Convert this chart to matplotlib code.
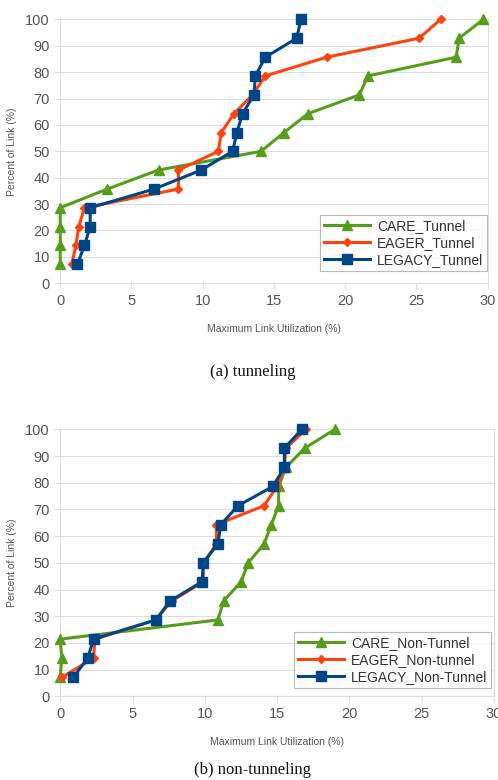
import matplotlib
matplotlib.use("Agg")
import matplotlib.pyplot as plt

# y values: percent of links (k/14)
pct = [7.1, 14.3, 21.4, 28.6, 35.7, 42.9, 50.0, 57.1, 64.3, 71.4, 78.6, 85.7, 92.9, 100.0]

# (a) tunneling
care_tun = [0, 0, 0, 0, 3.3, 6.9, 14.1, 15.7, 17.4, 21.0, 21.6, 27.8, 28.0, 29.7]
eager_tun = [0.8, 1.1, 1.3, 1.7, 8.3, 8.3, 11.1, 11.3, 12.2, 13.5, 14.4, 18.7, 25.2, 26.7]
legacy_tun = [1.2, 1.7, 2.1, 2.1, 6.6, 9.9, 12.1, 12.4, 12.8, 13.6, 13.7, 14.4, 16.6, 16.9]

# (b) non-tunneling
care_non = [0, 0.1, 0, 10.9, 11.3, 12.5, 13.0, 14.1, 14.6, 15.1, 15.1, 15.6, 16.9, 19.0]
eager_non = [0.1, 2.3, 2.4, 6.6, 7.7, 9.9, 9.9, 10.8, 10.8, 14.1, 15.0, 15.5, 15.6, 17.0]
legacy_non = [0.9, 1.9, 2.3, 6.6, 7.6, 9.8, 9.9, 10.9, 11.1, 12.3, 14.7, 15.5, 15.5, 16.7]

labels_tun = ["CARE_Tunnel", "EAGER_Tunnel", "LEGACY_Tunnel"]
labels_non = ["CARE_Non-Tunnel", "EAGER_Non-tunnel", "LEGACY_Non-Tunnel"]

xticks = [0, 5, 10, 15, 20, 25, 30]
yticks = [0, 10, 20, 30, 40, 50, 60, 70, 80, 90, 100]

GREEN = "#579d1c"
ORANGE = "#ff420e"
BLUE = "#004586"

plt.rcParams['font.family'] = ['Liberation Sans', 'DejaVu Sans']

fig = plt.figure(figsize=(4.98, 7.8), dpi=100)

def draw(ax, care, eager, legacy, labels, legend_bbox):
    ax.plot(care, pct, color=GREEN, lw=2.2, marker='^', ms=7, label=labels[0], zorder=3)
    ax.plot(eager, pct, color=ORANGE, lw=2.2, marker='D', ms=4, label=labels[1], zorder=4)
    ax.plot(legacy, pct, color=BLUE, lw=2.2, marker='s', ms=7, label=labels[2], zorder=5)
    ax.set_xlim(0, 30)
    ax.set_ylim(0, 100)
    ax.set_xticks(xticks)
    ax.set_yticks(yticks)
    ax.grid(axis='y', color='#dddddd', lw=0.8)
    ax.set_axisbelow(True)
    for s in ['left', 'bottom', 'right', 'top']:
        ax.spines[s].set_color('#dddddd')
        ax.spines[s].set_linewidth(0.8)
    ax.spines['top'].set_visible(False)
    ax.tick_params(axis='both', colors='#dddddd', labelcolor='#555555', labelsize=10.5,
                   length=4, width=0.8)
    ax.set_xlabel("Maximum Link Utilization (%)", fontsize=7.5, color='#555555', labelpad=12)
    ax.set_ylabel("Percent of Link (%)", fontsize=7.5, color='#555555', labelpad=6)
    leg = ax.legend(loc='lower left', bbox_to_anchor=legend_bbox, bbox_transform=fig.transFigure,
                    fontsize=10, frameon=True, fancybox=False, handlelength=3.3,
                    handletextpad=0.5, borderpad=0.3, labelspacing=0.2, borderaxespad=0)
    leg.get_frame().set_edgecolor('#aaaaaa')
    leg.get_frame().set_linewidth(0.8)
    for t in leg.get_texts():
        t.set_color('#333333')
    for l in ax.get_lines():
        l.set_clip_on(False)

ax1 = fig.add_axes([0.121, 0.637, 0.858, 0.338])
draw(ax1, care_tun, eager_tun, legacy_tun, labels_tun, (320/498, 1 - 271/780))

ax2 = fig.add_axes([0.121, 0.1073, 0.871, 0.3423])
draw(ax2, care_non, eager_non, legacy_non, labels_non, (294/498, 1 - 688/780))

fig.text(0.508, 1 - 372/780, "(a) tunneling", ha='center', va='center',
         fontsize=12, family=['Liberation Serif', 'DejaVu Serif'], color='#111111')
fig.text(0.508, 1 - 778/780, "(b) non-tunneling", ha='center', va='bottom',
         fontsize=12, family=['Liberation Serif', 'DejaVu Serif'], color='#111111')

fig.savefig("out.png", dpi=100)
